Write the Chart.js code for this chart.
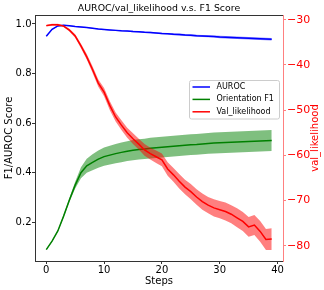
<!DOCTYPE html>
<html lang="en">
<head>
    <meta charset="UTF-8">
    <title>AUROC/val_likelihood v.s. F1 Score</title>
    <script src="https://cdn.jsdelivr.net/npm/chart.js"></script>
    <style>
        html, body { margin: 0; padding: 0; background: #fff; }
        #wrap { width: 324px; height: 290px; }
    </style>
</head>
<body>
    <div id="wrap"><canvas id="chart" width="324" height="290"></canvas></div>

    <script>
        // values
        const steps = [0, 1, 2, 3, 4, 5, 6, 7, 8, 9, 10, 11, 12, 13, 14, 15, 16, 17, 18, 19,
                       20, 21, 22, 23, 24, 25, 26, 27, 28, 29, 30, 31, 32, 33, 34, 35, 36, 37, 38, 39];

        const aurocMean = [0.950, 0.978, 0.992, 0.995, 0.993, 0.990, 0.988, 0.986, 0.983, 0.980,
                           0.978, 0.976, 0.974, 0.972, 0.971, 0.969, 0.968, 0.966, 0.965, 0.963,
                           0.961, 0.960, 0.958, 0.957, 0.955, 0.954, 0.952, 0.951, 0.950, 0.949,
                           0.947, 0.946, 0.945, 0.944, 0.943, 0.942, 0.941, 0.940, 0.939, 0.938];
        const aurocStd = [0.002, 0.002, 0.002, 0.002, 0.002, 0.002, 0.002, 0.002, 0.002, 0.002,
                          0.002, 0.002, 0.003, 0.003, 0.003, 0.003, 0.003, 0.003, 0.003, 0.003,
                          0.003, 0.003, 0.004, 0.004, 0.004, 0.004, 0.004, 0.004, 0.004, 0.004,
                          0.005, 0.005, 0.005, 0.005, 0.005, 0.005, 0.005, 0.005, 0.005, 0.005];

        const f1Mean = [0.090, 0.124, 0.165, 0.225, 0.290, 0.350, 0.400, 0.428, 0.442, 0.455,
                        0.465, 0.471, 0.477, 0.482, 0.487, 0.491, 0.494, 0.496, 0.499, 0.501,
                        0.503, 0.505, 0.507, 0.509, 0.511, 0.513, 0.514, 0.516, 0.518, 0.520,
                        0.521, 0.522, 0.523, 0.524, 0.525, 0.526, 0.527, 0.528, 0.529, 0.530];
        const f1Std = [0.002, 0.002, 0.003, 0.005, 0.008, 0.014, 0.022, 0.028, 0.032, 0.035,
                       0.037, 0.038, 0.039, 0.040, 0.040, 0.041, 0.041, 0.041, 0.042, 0.042,
                       0.042, 0.042, 0.042, 0.042, 0.042, 0.042, 0.042, 0.042, 0.042, 0.042,
                       0.042, 0.042, 0.042, 0.042, 0.042, 0.042, 0.042, 0.042, 0.042, 0.042];

        const likMean = [-31.3, -31.1, -31.1, -31.4, -32.3, -33.6, -35.8, -38.2, -41.0, -44.0,
                         -46.0, -49.0, -51.5, -53.3, -55.0, -56.3, -57.5, -58.8, -59.6, -60.3,
                         -61.0, -63.0, -64.3, -65.7, -67.0, -68.0, -69.2, -70.2, -71.0, -71.6,
                         -72.0, -72.4, -73.0, -73.8, -74.6, -75.8, -75.4, -76.8, -78.6, -78.5];
        const likStd = [0.2, 0.2, 0.2, 0.2, 0.3, 0.4, 0.5, 0.6, 0.7, 0.8,
                        0.9, 1.0, 1.0, 1.1, 1.1, 1.2, 1.2, 1.3, 1.3, 1.4,
                        1.4, 1.5, 1.5, 1.6, 1.6, 1.7, 1.7, 1.8, 1.8, 1.9,
                        1.9, 2.0, 2.0, 2.1, 2.1, 2.2, 2.2, 2.3, 2.3, 2.4];

        const xTicks = [0, 10, 20, 30, 40];
        const leftTicks = [0.2, 0.4, 0.6, 0.8, 1.0];
        const rightTicks = [-80, -70, -60, -50, -40, -30];

        const seriesNames = ['AUROC', 'Orientation F1', 'Val_likelihood'];
        const seriesColors = ['#0000ff', '#008000', '#ff0000'];

        const FONT = 'DejaVu Sans';

        function pts(ys) {
            return steps.map((s, i) => ({ x: s, y: ys[i] }));
        }
        function band(mean, std, sign) {
            return steps.map((s, i) => ({ x: s, y: mean[i] + sign * std[i] }));
        }
        function lineSet(label, data, color, axis) {
            return { label: label, data: data, yAxisID: axis, borderColor: color, borderWidth: 1.5,
                     pointRadius: 0, tension: 0, fill: false };
        }
        function bandSet(data, color, axis, fill) {
            return { label: '', data: data, yAxisID: axis, borderWidth: 0, borderColor: 'rgba(0,0,0,0)',
                     backgroundColor: color, pointRadius: 0, tension: 0, fill: fill };
        }

        // lower index is drawn on top
        const datasets = [
            lineSet(seriesNames[2], pts(likMean), seriesColors[2], 'y2'),
            bandSet(band(likMean, likStd, 1), 'rgba(255,0,0,0.5)', 'y2', '+1'),
            bandSet(band(likMean, likStd, -1), 'rgba(255,0,0,0.5)', 'y2', false),
            lineSet(seriesNames[0], pts(aurocMean), seriesColors[0], 'y'),
            bandSet(band(aurocMean, aurocStd, 1), 'rgba(0,0,255,0.45)', 'y', '+1'),
            bandSet(band(aurocMean, aurocStd, -1), 'rgba(0,0,255,0.45)', 'y', false),
            lineSet(seriesNames[1], pts(f1Mean), seriesColors[1], 'y'),
            bandSet(band(f1Mean, f1Std, 1), 'rgba(0,128,0,0.5)', 'y', '+1'),
            bandSet(band(f1Mean, f1Std, -1), 'rgba(0,128,0,0.5)', 'y', false)
        ];

        // title, top spine, right axis label and legend box
        const decorPlugin = {
            id: 'decor',
            afterDraw(chart) {
                const ctx = chart.ctx;
                const a = chart.chartArea;
                ctx.save();

                ctx.strokeStyle = '#333';
                ctx.lineWidth = 1;
                ctx.beginPath();
                ctx.moveTo(a.left, a.top + 0.5);
                ctx.lineTo(a.right, a.top + 0.5);
                ctx.stroke();

                ctx.fillStyle = '#000';
                ctx.font = '9.4px "' + FONT + '"';
                ctx.textAlign = 'center';
                ctx.textBaseline = 'alphabetic';
                ctx.fillText('AUROC/val_likelihood v.s. F1 Score', (a.left + a.right) / 2, 11.3);

                ctx.save();
                ctx.translate(315, (a.top + a.bottom) / 2);
                ctx.rotate(-Math.PI / 2);
                ctx.fillStyle = '#ff0000';
                ctx.font = '10px "' + FONT + '"';
                ctx.textBaseline = 'middle';
                ctx.fillText('val_likelihood', 0, 0);
                ctx.restore();

                // legend
                const lx = 189.5, ly = 80.5, lw = 90, lh = 38.5;
                ctx.fillStyle = 'rgba(255,255,255,0.8)';
                ctx.strokeStyle = '#cccccc';
                ctx.beginPath();
                ctx.roundRect(lx, ly, lw, lh, 2);
                ctx.fill();
                ctx.stroke();

                ctx.font = '8px "' + FONT + '"';
                ctx.textAlign = 'left';
                ctx.textBaseline = 'middle';
                seriesNames.forEach((name, i) => {
                    const y = 87 + i * 12.4;
                    ctx.strokeStyle = seriesColors[i];
                    ctx.lineWidth = 1.5;
                    ctx.beginPath();
                    ctx.moveTo(192.5, y);
                    ctx.lineTo(210, y);
                    ctx.stroke();
                    ctx.fillStyle = '#000';
                    ctx.fillText(name, 216.5, y);
                });

                ctx.restore();
            }
        };

        const ctx = document.getElementById('chart').getContext('2d');
        new Chart(ctx, {
            type: 'line',
            data: { datasets: datasets },
            plugins: [decorPlugin],
            options: {
                responsive: false,
                animation: false,
                devicePixelRatio: 1,
                layout: { padding: { top: 15, left: 0, right: 0, bottom: 0 } },
                plugins: {
                    legend: { display: false },
                    tooltip: { enabled: false },
                    filler: { propagate: false }
                },
                scales: {
                    x: {
                        type: 'linear',
                        min: -1.95,
                        max: 40.95,
                        afterBuildTicks: s => { s.ticks = xTicks.map(v => ({ value: v })); },
                        afterFit: s => { s.height = 29; },
                        grid: { drawOnChartArea: false, tickLength: 3, color: '#333' },
                        border: { display: true, color: '#333', width: 1 },
                        ticks: { font: { family: FONT, size: 10 }, color: '#000', padding: 0, maxRotation: 0 },
                        title: { display: true, text: 'Steps', font: { family: FONT, size: 10 }, color: '#000',
                                 padding: { top: 0, bottom: 3 } }
                    },
                    y: {
                        position: 'left',
                        min: 0.044,
                        max: 1.036,
                        afterBuildTicks: s => { s.ticks = leftTicks.map(v => ({ value: v })); },
                        afterFit: s => { s.width = 35; },
                        grid: { drawOnChartArea: false, tickLength: 3, color: '#333' },
                        border: { display: true, color: '#333', width: 1 },
                        ticks: { font: { family: FONT, size: 10 }, color: '#000', padding: 0.5,
                                 callback: v => v.toFixed(1) },
                        title: { display: true, text: 'F1/AUROC Score', font: { family: FONT, size: 10 }, color: '#000',
                                 padding: { top: 3.5, bottom: 0 } }
                    },
                    y2: {
                        position: 'right',
                        min: -83.35,
                        max: -28.95,
                        afterBuildTicks: s => { s.ticks = rightTicks.map(v => ({ value: v })); },
                        afterFit: s => { s.width = 41; },
                        grid: { drawOnChartArea: false, tickLength: 3, color: '#ff8080' },
                        border: { display: true, color: '#ff8080', width: 1 },
                        ticks: { font: { family: FONT, size: 11 }, color: '#ff0000', padding: 1,
                                 callback: v => (v < 0 ? '\u2212' : '') + Math.abs(v) }
                    }
                }
            }
        });
    </script>
</body>
</html>
